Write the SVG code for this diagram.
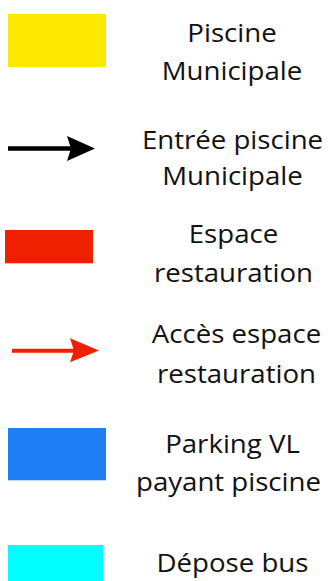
<svg xmlns="http://www.w3.org/2000/svg" width="328" height="581" viewBox="0 0 328 581">
<style>
text{font-family:"Open Sans","Noto Sans",sans-serif;font-size:25px;fill:#111;text-anchor:middle}
</style>
<rect width="328" height="581" fill="#fff"/>
<g id="piscine">
<rect x="8" y="14" width="98" height="53" fill="#FFE800"/>
<text transform="translate(232 0) scale(1.105 1)" y="42.3">Piscine</text>
<text transform="translate(232 0) scale(1.105 1)" y="80">Municipale</text>
</g>
<g id="entree">
<text transform="translate(232.5 0) scale(1.105 1)" y="149.3">Entrée piscine</text>
<text transform="translate(232.5 0) scale(1.105 1)" y="185">Municipale</text>
</g>
<g id="espace">
<rect x="5" y="230" width="88" height="33.3" fill="#EF2000"/>
<text transform="translate(233.5 0) scale(1.105 1)" y="243.3">Espace</text>
<text transform="translate(233.5 0) scale(1.105 1)" y="281.7">restauration</text>
</g>
<g id="acces">
<text transform="translate(236.5 0) scale(1.105 1)" y="343.3">Accès espace</text>
<text transform="translate(236.5 0) scale(1.105 1)" y="382.7">restauration</text>
</g>
<g id="parking">
<rect x="8" y="428" width="98" height="52.3" fill="#1F7FF5"/>
<text transform="translate(232.5 0) scale(1.105 1)" y="453.3">Parking VL</text>
<text transform="translate(228.5 0) scale(1.105 1)" y="490.7">payant piscine</text>
</g>
<g id="depose">
<rect x="8" y="545" width="95" height="40" fill="#00FFFF"/>
<text transform="translate(232.5 0) scale(1.105 1)" y="571.7">Dépose bus</text>
</g>
<g id="connectors">
<line x1="8" y1="148.4" x2="72" y2="148.4" stroke="#000" stroke-width="4.5"/>
<polygon points="67,136 95,148.4 67,161 71,148.4" fill="#000"/>
<line x1="12" y1="350.7" x2="74" y2="350.7" stroke="#EF2000" stroke-width="4"/>
<polygon points="70,338.3 99,350.6 70,362.3 74,350.6" fill="#EF2000"/>
</g>
</svg>
